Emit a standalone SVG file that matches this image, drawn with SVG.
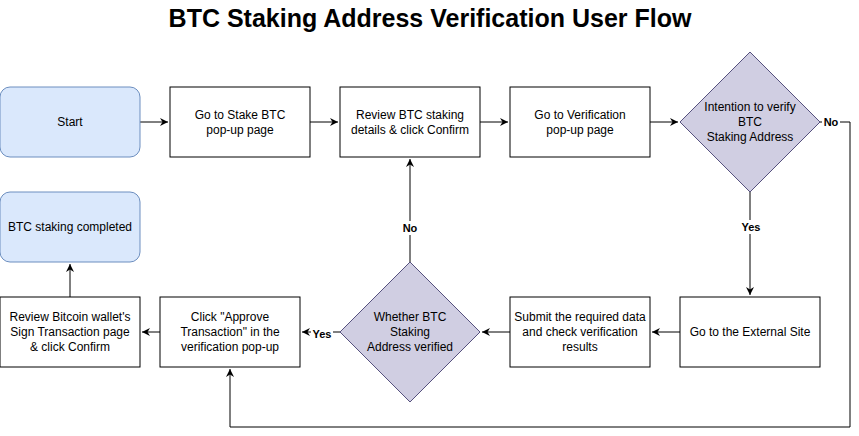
<svg xmlns="http://www.w3.org/2000/svg" width="859" height="436" viewBox="0 0 859 436">
<defs>
<marker id="arr" markerWidth="10" markerHeight="10" refX="8" refY="4" orient="auto" markerUnits="userSpaceOnUse">
<path d="M0,0 L8,4 L0,8 L2.5,4 Z" fill="#000"/>
</marker>
<style>
.box{fill:#fff;stroke:#000;stroke-width:1}
.term{fill:#dae8fc;stroke:#6c8ebf;stroke-width:1}
.dec{fill:#d0cee2;stroke:#56517e;stroke-width:1}
text{font-family:"Liberation Sans",Arial,sans-serif;font-size:12px;fill:#000;text-anchor:middle}
.lbl{font-size:11px;font-weight:bold}
.title{font-size:25px;font-weight:bold}
.edge{fill:none;stroke:#000;stroke-width:1}
</style>
</defs>
<rect width="859" height="436" fill="#fff"/>
<text class="title" x="430" y="27">BTC Staking Address Verification User Flow</text>
<g id="connectors">
<path class="edge" d="M140,122 H168" marker-end="url(#arr)"/>
<path class="edge" d="M310,122 H338" marker-end="url(#arr)"/>
<path class="edge" d="M480,122 H508" marker-end="url(#arr)"/>
<path class="edge" d="M650,122 H678" marker-end="url(#arr)"/>
<path class="edge" d="M820,122 H850 V427 H230 V369" marker-end="url(#arr)"/>
<path class="edge" d="M750,192 V295" marker-end="url(#arr)"/>
<path class="edge" d="M680,332 H652" marker-end="url(#arr)"/>
<path class="edge" d="M510,332 H482" marker-end="url(#arr)"/>
<path class="edge" d="M340,332 H302" marker-end="url(#arr)"/>
<path class="edge" d="M410,262 V159" marker-end="url(#arr)"/>
<path class="edge" d="M160,332 H142" marker-end="url(#arr)"/>
<path class="edge" d="M70,297 V264" marker-end="url(#arr)"/>
<rect x="822" y="115" width="18" height="14" fill="#fff"/>
<text class="lbl" x="831" y="126">No</text>
<rect x="740" y="220" width="22" height="14" fill="#fff"/>
<text class="lbl" x="751" y="231">Yes</text>
<rect x="311" y="326" width="22" height="14" fill="#fff"/>
<text class="lbl" x="322" y="338">Yes</text>
<rect x="401" y="221" width="18" height="14" fill="#fff"/>
<text class="lbl" x="410" y="232">No</text>
</g>
<g id="start">
<rect class="term" x="0" y="87" width="140" height="70" rx="10"/>
<text x="70" y="126">Start</text>
</g>
<g id="stake">
<rect class="box" x="170" y="87" width="140" height="70"/>
<text x="240" y="119">Go to Stake BTC</text>
<text x="240" y="134">pop-up page</text>
</g>
<g id="review">
<rect class="box" x="340" y="87" width="140" height="70"/>
<text x="410" y="119">Review BTC staking</text>
<text x="410" y="134">details &amp; click Confirm</text>
</g>
<g id="verification">
<rect class="box" x="510" y="87" width="140" height="70"/>
<text x="580" y="119">Go to Verification</text>
<text x="580" y="134">pop-up page</text>
</g>
<g id="intention">
<path class="dec" d="M750,52 L820,122 L750,192 L680,122 Z"/>
<text x="750" y="111">Intention to verify</text>
<text x="750" y="126">BTC</text>
<text x="750" y="141">Staking Address</text>
</g>
<g id="external">
<rect class="box" x="680" y="297" width="140" height="70"/>
<text x="750" y="336">Go to the External Site</text>
</g>
<g id="submit">
<rect class="box" x="510" y="297" width="140" height="70"/>
<text x="580" y="321">Submit the required data</text>
<text x="580" y="336">and check verification</text>
<text x="580" y="351">results</text>
</g>
<g id="whether">
<path class="dec" d="M410,262 L480,332 L410,402 L340,332 Z"/>
<text x="410" y="321">Whether BTC</text>
<text x="410" y="336">Staking</text>
<text x="410" y="351">Address verified</text>
</g>
<g id="approve">
<rect class="box" x="160" y="297" width="140" height="70"/>
<text x="230" y="321">Click "Approve</text>
<text x="230" y="336">Transaction" in the</text>
<text x="230" y="351">verification pop-up</text>
</g>
<g id="sign">
<rect class="box" x="0" y="297" width="140" height="70"/>
<text x="70" y="321">Review Bitcoin wallet's</text>
<text x="70" y="336">Sign Transaction page</text>
<text x="70" y="351">&amp; click Confirm</text>
</g>
<g id="completed">
<rect class="term" x="0" y="192" width="140" height="70" rx="10"/>
<text x="70" y="231">BTC staking completed</text>
</g>
</svg>
